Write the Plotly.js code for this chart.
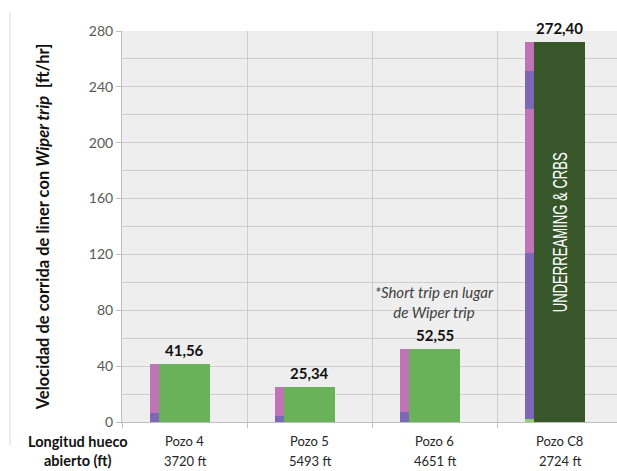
<!DOCTYPE html>
<html>
<head>
<meta charset="utf-8">
<script src="https://cdn.plot.ly/plotly-3.0.1.min.js"></script>
<style>html,body{margin:0;padding:0;background:#fff;}</style>
</head>
<body>
<div id="chart" style="width:617px;height:471px;"></div>
<script>
// ---- data ----
const categories = ['Pozo 4', 'Pozo 5', 'Pozo 6', 'Pozo C8'];
const holeLengths = ['3720 ft', '5493 ft', '4651 ft', '2724 ft'];
const speeds = [41.56, 25.34, 52.55, 272.40];
const speedLabels = ['41,56', '25,34', '52,55', '272,40'];
// thin stacked bar, bottom to top
const segGreen   = [0, 0, 0, 2];
const segPurple1 = [6.4, 4.3, 7.2, 118.7];
const segPink1   = [35.16, 21.04, 45.35, 103.1];
const segPurple2 = [0, 0, 0, 27.5];
const segPink2   = [0, 0, 0, 21.1];
const yTickVals = [0, 40, 80, 120, 160, 200, 240, 280];
const noteText = '*Short trip en lugar<br>de Wiper trip';
const barInsideText = 'UNDERREAMING & CRBS';
const yTitle = 'Velocidad de corrida de liner con <i>Wiper trip</i> &nbsp;[ft/hr]';
const rowTitle = 'Longitud hueco<br>abierto (ft)';

// ---- styles ----
const FONT = 'Lato, "Open Sans", sans-serif';
const cGreen = '#6ab25a', cDark = '#37572a', cPurple = '#7d68b8', cPink = '#c173b7', cLight = '#8fd16a';
const thinOffset = -0.28, thinWidth = 0.074;
const mainOffset = -0.204, mainWidth = 0.41;

const layers = [
  {v: segGreen, c: cLight},
  {v: segPurple1, c: cPurple},
  {v: segPink1, c: cPink},
  {v: segPurple2, c: cPurple},
  {v: segPink2, c: cPink}
];
const traces = [];
let cum = categories.map(() => 0);
layers.forEach(L => {
  const base = cum.slice();
  traces.push({
    type: 'bar', x: categories, y: L.v, base: base,
    offset: thinOffset, width: thinWidth,
    marker: {color: L.c, line: {width: 0}},
    hoverinfo: 'skip', showlegend: false
  });
  cum = cum.map((s, i) => s + L.v[i]);
});
traces.push({
  type: 'bar', x: categories, y: speeds, base: categories.map(() => 0),
  offset: mainOffset, width: mainWidth,
  marker: {color: categories.map((c, i) => i === categories.length - 1 ? cDark : cGreen),
           line: {width: 0}},
  showlegend: false
});

const annotations = [];
categories.forEach((c, i) => {
  annotations.push({x: c, y: speeds[i], xref: 'x', yref: 'y', text: '<b>' + speedLabels[i] + '</b>',
    showarrow: false, xanchor: 'center', yanchor: 'middle', yshift: 14, font: {family: FONT, size: 15, color: '#111'}});
  annotations.push({x: c, y: 0, xref: 'x', yref: 'paper', text: c, showarrow: false,
    xanchor: 'center', yanchor: 'middle', yshift: -19, font: {family: FONT, size: 13, color: '#262626'}});
  annotations.push({x: c, y: 0, xref: 'x', yref: 'paper', text: holeLengths[i], showarrow: false,
    xanchor: 'center', yanchor: 'middle', yshift: -39, font: {family: FONT, size: 13, color: '#262626'}});
});
annotations.push({x: -0.089, y: 0, xref: 'paper', yref: 'paper', text: '<b>' + rowTitle + '</b>',
  showarrow: false, xanchor: 'center', yanchor: 'middle', yshift: -29, font: {family: FONT, size: 14.5, color: '#111'}});
annotations.push({x: categories[2], y: speeds[2], xref: 'x', yref: 'y', text: '<i>' + noteText + '</i>',
  showarrow: false, xanchor: 'center', yanchor: 'middle', yshift: 47, font: {family: FONT, size: 15, color: '#404040'}});
annotations.push({x: categories[3], y: 136, xref: 'x', yref: 'y', text: barInsideText, textangle: -90,
  showarrow: false, xanchor: 'center', yanchor: 'middle',
  font: {family: '"Liberation Sans Narrow", "Liberation Sans", sans-serif', size: 21, color: '#ffffff'}});
annotations.push({x: -0.16, y: 0.5, xref: 'paper', yref: 'paper', text: '<b>' + yTitle + '</b>', textangle: -90,
  showarrow: false, xanchor: 'center', yanchor: 'middle', font: {family: FONT, size: 16.5, color: '#111'}});

const layout = {
  width: 617, height: 471,
  margin: {l: 122, r: 0, t: 31, b: 49, pad: 0},
  paper_bgcolor: '#ffffff', plot_bgcolor: '#eeeeee',
  barmode: 'overlay', bargap: 0,
  xaxis: {type: 'category', categoryorder: 'array', categoryarray: categories,
    range: [-0.5, 3.46], showgrid: true, gridcolor: '#cdcdcd', tickson: 'boundaries',
    ticks: 'outside', ticklen: 5, tickcolor: '#bfbfbf', showticklabels: false,
    showline: true, linecolor: '#bfbfbf', zeroline: false, fixedrange: true},
  yaxis: {range: [0, 280], tickvals: yTickVals, ticks: 'outside', ticklen: 5, tickcolor: '#bfbfbf',
    gridcolor: '#cdcdcd', minor: {dtick: 20, showgrid: true, gridcolor: '#cdcdcd', ticks: ''},
    tickfont: {family: FONT, size: 14, color: '#595959'}, showline: true, linecolor: '#bfbfbf',
    zeroline: false, fixedrange: true},
  shapes: [{type: 'line', xref: 'paper', yref: 'paper', x0: -0.2263, x1: -0.2263, y0: -0.06, y1: 1.049,
    line: {color: '#d9d9d9', width: 1}}],
  annotations: annotations
};

Plotly.newPlot('chart', traces, layout, {displayModeBar: false, staticPlot: true}).then(gd => {
  // condense the label written inside the dark bar to the bar-text length of the original
  gd.querySelectorAll('.annotation-text').forEach(t => {
    if (t.textContent === barInsideText) {
      t.setAttribute('textLength', '160');
      t.setAttribute('lengthAdjust', 'spacingAndGlyphs');
    }
  });
});
</script>
</body>
</html>
